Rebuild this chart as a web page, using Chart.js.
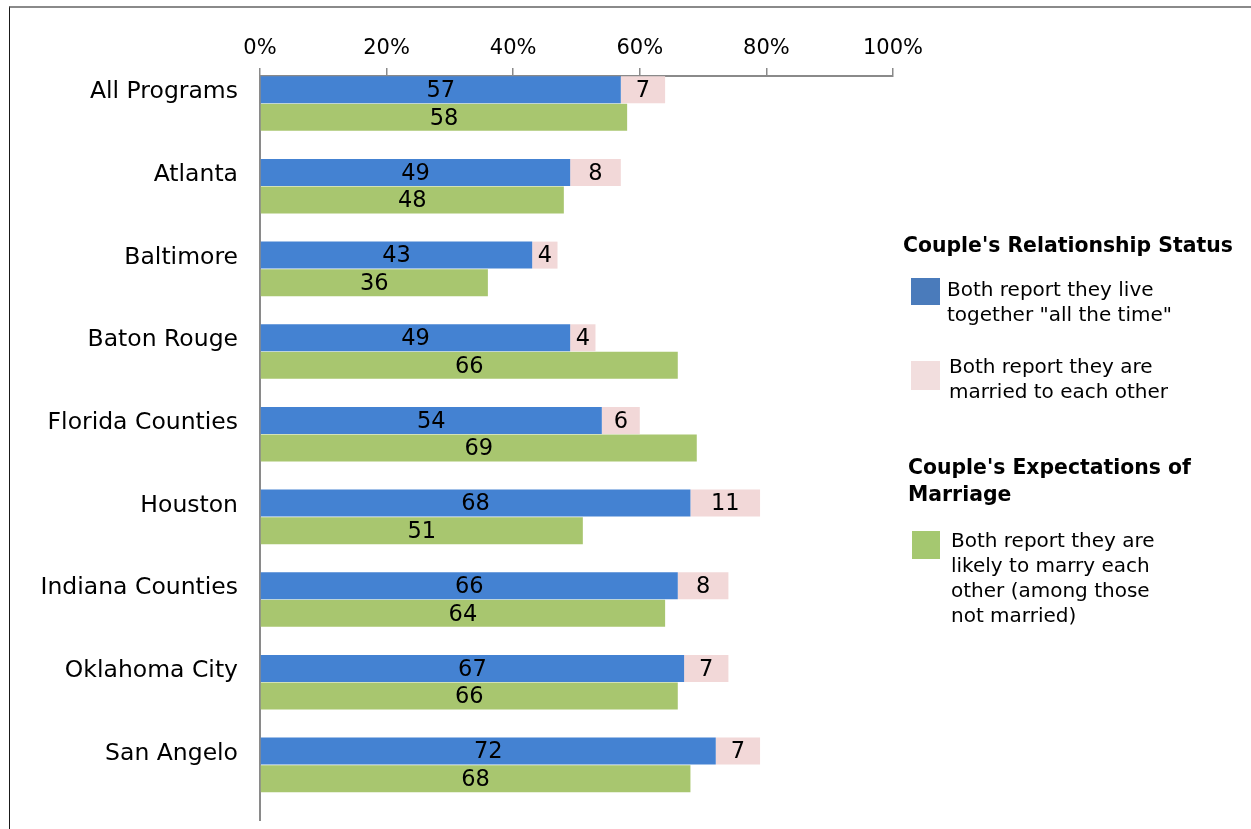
<!DOCTYPE html>
<html>
<head>
<meta charset="utf-8">
<title>Couple's Relationship Status</title>
<script src="https://cdn.jsdelivr.net/npm/chart.js@4.4.1/dist/chart.umd.min.js"></script>
<style>
    html, body { margin: 0; padding: 0; background: #fff; }
    body {
        width: 1251px;
        height: 829px;
        position: relative;
        overflow: hidden;
        font-family: "DejaVu Sans", sans-serif;
        color: #000;
    }
    .frame {
        position: absolute;
        left: 9px;
        top: 6px;
        right: -10px;
        bottom: -10px;
        border-top: 2px solid #8a8a8a;
        border-left: 1px solid #1a1a1a;
    }
    .chart-wrap {
        position: absolute;
        left: 0;
        top: 0;
        width: 960px;
        height: 829px;
    }
    .legend-title {
        position: absolute;
        font-weight: bold;
        font-size: 20.4px;
        line-height: 27px;
        white-space: nowrap;
    }
    .legend-swatch { position: absolute; }
    .legend-text {
        position: absolute;
        font-size: 20px;
        line-height: 25px;
        white-space: nowrap;
    }
</style>
</head>
<body>
<div class="frame"></div>
<div class="chart-wrap"><canvas id="statusChart"></canvas></div>

<div class="legend-title" style="left:903px; top:232px;">Couple's Relationship Status</div>
<div class="legend-swatch" style="left:911px; top:278px; width:29px; height:27px; background:#4a7bbb;"></div>
<div class="legend-text" style="left:947px; top:277px;">Both report they live<br>together "all the time"</div>
<div class="legend-swatch" style="left:911px; top:361px; width:29px; height:29px; background:#f2dede;"></div>
<div class="legend-text" style="left:949px; top:354px;">Both report they are<br>married to each other</div>

<div class="legend-title" style="left:908px; top:454px;">Couple's Expectations of<br>Marriage</div>
<div class="legend-swatch" style="left:912px; top:531px; width:28px; height:28px; background:#a5c870;"></div>
<div class="legend-text" style="left:951px; top:528px;">Both report they are<br>likely to marry each<br>other (among those<br>not married)</div>

<script>
// Programs (one row pair per program)
const categories = ['All Programs', 'Atlanta', 'Baltimore', 'Baton Rouge', 'Florida Counties',
    'Houston', 'Indiana Counties', 'Oklahoma City', 'San Angelo'];

// Relationship status (stacked)
const liveTogether = [57, 49, 43, 49, 54, 68, 66, 67, 72];
const married = [7, 8, 4, 4, 6, 11, 8, 7, 7];

// Expectations of marriage
const likelyToMarry = [58, 48, 36, 66, 69, 51, 64, 66, 68];

// Percent axis
const xTickValues = [0, 20, 40, 60, 80, 100];
const xTickLabels = ['0%', '20%', '40%', '60%', '80%', '100%'];

const FONT = 'DejaVu Sans';

// Writes each bar's value in the middle of the bar
const barValueLabels = {
    id: 'barValueLabels',
    afterDatasetsDraw(chart) {
        const ctx = chart.ctx;
        ctx.save();
        ctx.font = `22.5px "${FONT}"`;
        ctx.fillStyle = '#000';
        ctx.textAlign = 'center';
        ctx.textBaseline = 'middle';
        chart.data.datasets.forEach((ds, i) => {
            if (ds.stack === 'spacer') return;
            chart.getDatasetMeta(i).data.forEach((bar, j) => {
                const { x, y, base } = bar.getProps(['x', 'y', 'base'], true);
                ctx.fillText(ds.data[j], (x + base) / 2, y + 1.5);
            });
        });
        ctx.restore();
    }
};

class StatusChart {
    constructor(canvasId) {
        this.canvas = document.getElementById(canvasId);
        this.render();
    }

    buildDatasets() {
        return [{
            label: 'Both report they live together "all the time"',
            data: liveTogether,
            backgroundColor: '#4482d2',
            stack: 'status'
        }, {
            label: 'Both report they are married to each other',
            data: married,
            backgroundColor: '#f2d8d8',
            stack: 'status'
        }, {
            label: 'Both report they are likely to marry each other (among those not married)',
            data: likelyToMarry,
            backgroundColor: '#a8c66f',
            stack: 'expect'
        }, {
            // empty third slot keeps the gap under each pair
            label: '',
            data: categories.map(() => 0),
            backgroundColor: 'rgba(0,0,0,0)',
            stack: 'spacer'
        }];
    }

    render() {
        this.chart = new Chart(this.canvas, {
            type: 'bar',
            data: {
                labels: categories,
                datasets: this.buildDatasets()
            },
            options: {
                indexAxis: 'y',
                responsive: true,
                maintainAspectRatio: false,
                animation: false,
                events: [],
                layout: { padding: { left: 0, top: 0, right: 67, bottom: 9 } },
                datasets: {
                    bar: { categoryPercentage: 1, barPercentage: 0.98, borderWidth: 0 }
                },
                plugins: {
                    legend: { display: false },
                    tooltip: { enabled: false }
                },
                scales: {
                    x: {
                        position: 'top',
                        stacked: true,
                        min: 0,
                        max: 100,
                        afterBuildTicks: scale => {
                            scale.ticks = xTickValues.map(v => ({ value: v }));
                        },
                        ticks: {
                            callback: (v, i) => xTickLabels[i],
                            color: '#000',
                            font: { family: FONT, size: 21 },
                            padding: 7,
                            maxRotation: 0
                        },
                        grid: {
                            drawOnChartArea: false,
                            drawTicks: true,
                            tickLength: 8,
                            color: '#8a8a8a',
                            lineWidth: 1.5
                        },
                        border: { color: '#8a8a8a', width: 2 },
                        afterFit: scale => { scale.height = 76; }
                    },
                    y: {
                        stacked: true,
                        ticks: {
                            color: '#000',
                            font: { family: FONT, size: 23.5 },
                            padding: 22,
                            labelOffset: -25
                        },
                        grid: { display: false, drawTicks: false },
                        border: { color: '#8a8a8a', width: 2 },
                        afterFit: scale => {
                            scale.width = 260;
                            // labels sit inside the plot height, no extra room needed
                            scale.paddingTop = 0;
                            scale.paddingBottom = 0;
                        }
                    }
                }
            },
            plugins: [barValueLabels]
        });
    }
}

document.addEventListener('DOMContentLoaded', () => {
    const statusChart = new StatusChart('statusChart');
});
</script>
</body>
</html>
